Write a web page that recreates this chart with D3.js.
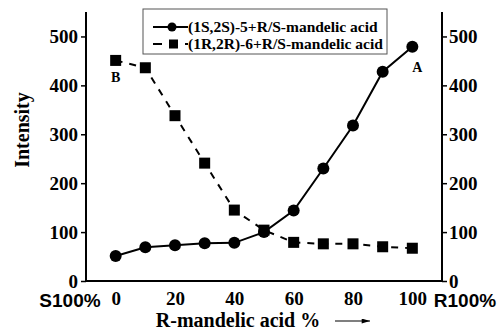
<!DOCTYPE html>
<html>
<head>
<meta charset="utf-8">
<script src="https://cdn.jsdelivr.net/npm/d3@7"></script>
<style>
  body { margin: 0; background: #fff; }
  text { font-family: "Liberation Serif", "Times New Roman", serif; font-weight: bold; fill: #000; }
  .sans { font-family: "Liberation Sans", Arial, sans-serif; }
</style>
</head>
<body>
<svg></svg>
<script>
// chart data
let ratios = [0, 10, 20, 30, 40, 50, 60, 70, 80, 90, 100];
let seriesSS = [51, 69, 73, 77, 78, 100, 144, 230, 318, 428, 479];
let seriesRR = [451, 436, 338, 241, 145, 104, 79, 76, 76, 70, 67];
let xTicks = [0, 20, 40, 60, 80, 100];
let yTicks = [0, 100, 200, 300, 400, 500];
let legendLabels = ['(1S,2S)-5+R/S-mandelic acid', '(1R,2R)-6+R/S-mandelic acid'];

let width = 499, height = 331;
let margin = {left: 86, right: 57, top: 12, bottom: 50};

let svg = d3.select('svg')
              .attr('width', width)
              .attr('height', height);

let x = d3.scaleLinear()
          .domain([-10, 110])
          .range([margin.left, width - margin.right]);
let y = d3.scaleLinear()
          .domain([0, 550])
          .range([height - margin.bottom, margin.top]);

function styleAxis(g){
  g.attr('font-family', '"Liberation Serif", "Times New Roman", serif')
   .attr('font-size', 19)
   .attr('font-weight', 'bold');
  g.select('.domain').attr('stroke-width', 2);
  g.selectAll('.tick line').attr('stroke-width', 1.5);
}

// axes
svg.append('g')
    .attr('transform', `translate(${margin.left},0)`)
    .call(d3.axisLeft(y).tickValues(yTicks).tickSize(5).tickPadding(3))
    .call(styleAxis)
    .call(g => g.select('.domain').attr('d', `M0,${y(550)}V${y(0)}`));

svg.append('g')
    .attr('transform', `translate(${width - margin.right},0)`)
    .call(d3.axisRight(y).tickValues(yTicks).tickSize(5).tickPadding(2))
    .call(styleAxis)
    .call(g => g.select('.domain').attr('d', `M0,${y(550)}V${y(0)}`));

svg.append('g')
    .attr('transform', `translate(0,${y(0)})`)
    .call(d3.axisBottom(x).tickValues(xTicks).tickSize(0).tickPadding(11))
    .call(styleAxis)
    .call(g => g.select('.domain').attr('d', `M${x(-10)},0H${x(110)}`));

// y title
svg.append('text')
    .attr('transform', `translate(29,130) rotate(-90)`)
    .attr('text-anchor', 'middle')
    .style('font-size', '20px')
    .text('Intensity');

// x title and arrow
svg.append('text')
    .attr('x', 238)
    .attr('y', 327)
    .attr('text-anchor', 'middle')
    .style('font-size', '20px')
    .text('R-mandelic acid %');

svg.append('defs').append('marker')
    .attr('id', 'arrow')
    .attr('viewBox', '0 0 10 6')
    .attr('refX', 10).attr('refY', 3)
    .attr('markerWidth', 10).attr('markerHeight', 5)
    .attr('markerUnits', 'userSpaceOnUse')
    .attr('orient', 'auto')
    .append('path').attr('d', 'M0,0L10,3L0,6Z');

svg.append('line')
    .attr('x1', 335).attr('x2', 370)
    .attr('y1', 321).attr('y2', 321)
    .attr('stroke', '#000').attr('stroke-width', 1.2)
    .attr('marker-end', 'url(#arrow)');

svg.append('text').classed('sans', true)
    .attr('x', 70).attr('y', 307)
    .attr('text-anchor', 'middle')
    .style('font-size', '19px')
    .text('S100%');
svg.append('text').classed('sans', true)
    .attr('x', 465).attr('y', 307)
    .attr('text-anchor', 'middle')
    .style('font-size', '19px')
    .text('R100%');

// lines
let line = d3.line().x(d => x(d[0])).y(d => y(d[1]));
let ssData = ratios.map((r, i) => [r, seriesSS[i]]);
let rrData = ratios.map((r, i) => [r, seriesRR[i]]);

svg.append('path')
    .datum(rrData)
    .attr('d', line)
    .attr('fill', 'none')
    .attr('stroke', '#000')
    .attr('stroke-width', 2)
    .attr('stroke-dasharray', '7,7');

svg.append('path')
    .datum(ssData)
    .attr('d', line)
    .attr('fill', 'none')
    .attr('stroke', '#000')
    .attr('stroke-width', 2);

svg.append('g')
    .selectAll('rect')
    .data(rrData)
    .enter()
    .append('rect')
    .attr('x', d => x(d[0]) - 5.5)
    .attr('y', d => y(d[1]) - 5.5)
    .attr('width', 11)
    .attr('height', 11)
    .attr('fill', '#000');

svg.append('g')
    .selectAll('circle')
    .data(ssData)
    .enter()
    .append('circle')
    .attr('cx', d => x(d[0]))
    .attr('cy', d => y(d[1]))
    .attr('r', 6)
    .attr('fill', '#000');

// point labels
svg.append('text')
    .attr('x', x(0)).attr('y', y(seriesRR[0]) + 22)
    .attr('text-anchor', 'middle')
    .style('font-size', '14px')
    .text('B');
svg.append('text')
    .attr('x', x(100) + 5).attr('y', y(seriesSS[10]) + 25)
    .attr('text-anchor', 'middle')
    .style('font-size', '14px')
    .text('A');

// legend
let legend = svg.append('g').attr('transform', 'translate(143,9)');
legend.append('rect')
    .attr('width', 244).attr('height', 45)
    .attr('fill', '#fff')
    .attr('stroke', '#555')
    .attr('stroke-width', 1);

let rows = legend.selectAll('g.row')
    .data(legendLabels)
    .enter()
    .append('g')
    .classed('row', true)
    .attr('transform', (d, i) => `translate(0,${18 + i * 17})`);

rows.append('line')
    .attr('x1', 10).attr('x2', 45)
    .attr('stroke', '#000')
    .attr('stroke-width', 2)
    .attr('stroke-dasharray', (d, i) => i === 0 ? null : '9,7');

rows.filter((d, i) => i === 0).append('circle')
    .attr('cx', 29).attr('r', 4.5).attr('fill', '#000');
rows.filter((d, i) => i === 1).append('rect')
    .attr('x', 26).attr('y', -4.5).attr('width', 9).attr('height', 9).attr('fill', '#000');

rows.append('text')
    .attr('x', 45)
    .attr('y', 5)
    .style('font-size', '15.5px')
    .text(d => d);
</script>
</body>
</html>
